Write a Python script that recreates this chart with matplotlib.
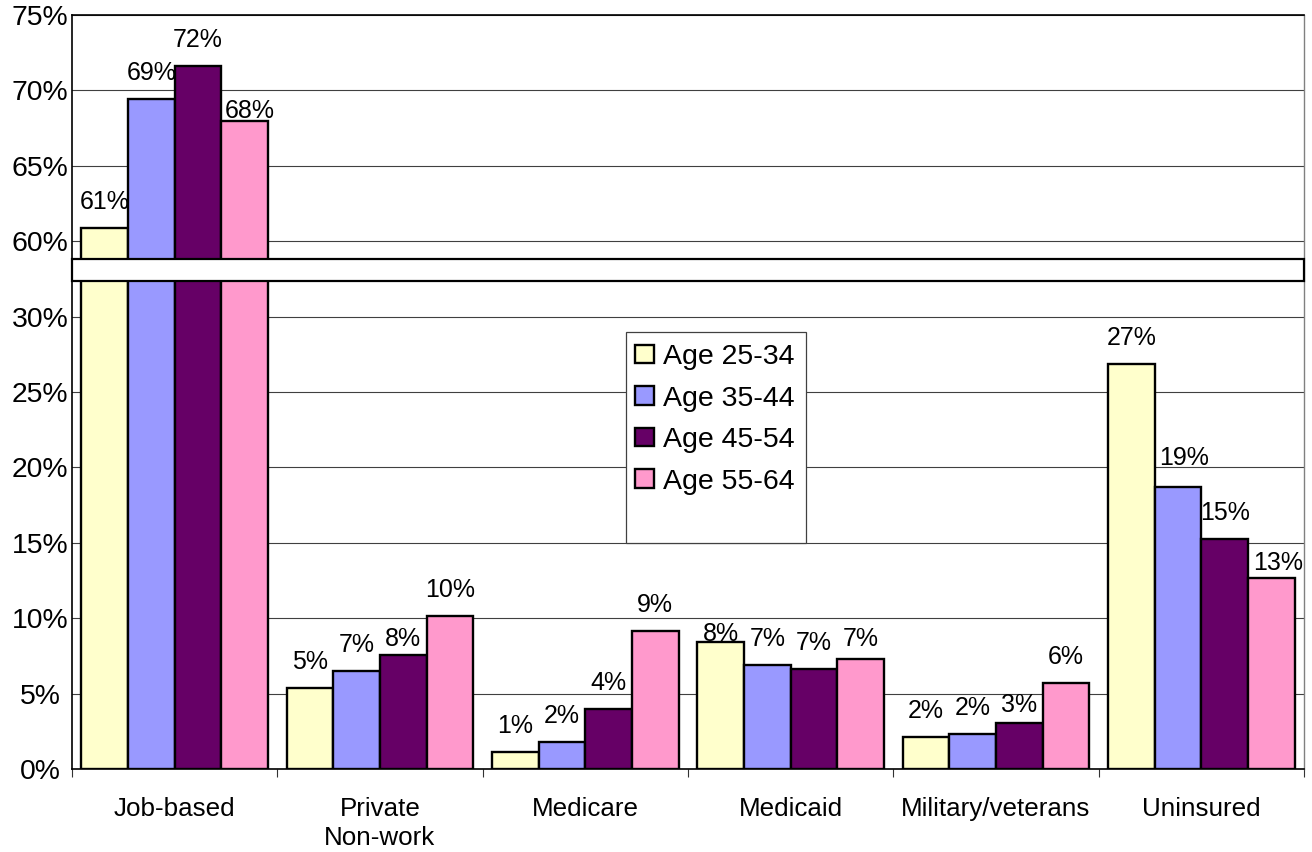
import numpy as np
import matplotlib
matplotlib.use("Agg")
import matplotlib.pyplot as plt
from matplotlib.patches import Rectangle

plt.rcParams["font.family"] = ["Liberation Sans", "DejaVu Sans"]

# ---- data -------------------------------------------------------------
categories = ["Job-based", "Private\nNon-work", "Medicare", "Medicaid",
              "Military/veterans", "Uninsured"]
age_groups = ["Age 25-34", "Age 35-44", "Age 45-54", "Age 55-64"]
age_25_34 = [60.9, 5.39, 1.15, 8.44, 2.14, 26.86]
age_35_44 = [69.45, 6.52, 1.81, 6.90, 2.30, 18.72]
age_45_54 = [71.65, 7.56, 3.96, 6.61, 3.03, 15.25]
age_55_64 = [68.0, 10.17, 9.15, 7.27, 5.72, 12.65]
series = [age_25_34, age_35_44, age_45_54, age_55_64]
y_ticks = [0, 5, 10, 15, 20, 25, 30, 60, 65, 70, 75]

colors = ["#FFFFCC", "#9999FF", "#660066", "#FF99CC"]

# label nudges in pixels (dx, dy) for a few crowded value labels
label_nudge = {
    (0, 3): (5, -16),
    (1, 2): (0, -10),
    (3, 0): (0, -18),
    (3, 3): (0, -6),
    (4, 2): (0, -8),
    (5, 1): (6, 3),
    (5, 3): (7, -11),
}


# ---- broken value axis: 30..60 squeezed into a short gap ---------------
def fwd(v):
    v = np.asarray(v, dtype=float)
    return np.where(v <= 30, v, np.where(v >= 60, v - 25, 30 + (v - 30) / 6.0))


def inv(m):
    m = np.asarray(m, dtype=float)
    return np.where(m <= 30, m, np.where(m >= 35, m + 25, 30 + (m - 30) * 6.0))


W, H = 1312, 852
fig = plt.figure(figsize=(W / 100, H / 100), dpi=100)
ax = fig.add_axes([72 / W, 1 - 769 / H, (1304 - 72) / W, (769 - 15) / H])
ax.set_yscale("function", functions=(fwd, inv))
ax.set_ylim(0, 75)
ax.set_xlim(-0.5, len(categories) - 0.5)

x = np.arange(len(categories))
bw = 0.9091 / 4
bars = []
for i, (vals, col, name) in enumerate(zip(series, colors, age_groups)):
    b = ax.bar(x + (i - 1.5) * bw, vals, width=bw, color=col,
               edgecolor="black", linewidth=1.7, label=name, zorder=3)
    bars.append(b)
    for j, v in enumerate(vals):
        dx, dy = label_nudge.get((j, i), (0, 0))
        ax.annotate(f"{v:.0f}%", (x[j] + (i - 1.5) * bw, v),
                    xytext=(dx * 0.72, (19 + dy) * 0.72),
                    textcoords="offset points", ha="center", va="baseline",
                    fontsize=18, color="black", zorder=6)

# gridlines and y labels
ax.set_yticks(y_ticks)
ax.set_yticklabels([f"{t}%" for t in y_ticks], fontsize=20.4, ha="center")
ax.tick_params(axis="y", length=0, pad=23)
ax.yaxis.grid(True, color="#404040", linewidth=0.8, zorder=0)
ax.set_axisbelow(True)

# category labels with boundary tick marks
ax.set_xticks(x)
ax.set_xticklabels(categories, fontsize=18.7, linespacing=1.3)
ax.tick_params(axis="x", which="major", length=0, pad=20)
ax.set_xticks(np.arange(-0.5, len(categories)), minor=True)
ax.tick_params(axis="x", which="minor", length=5.5, width=0.8, color="#333333",
               direction="out")

for side in ["left", "bottom", "top"]:
    ax.spines[side].set_color("black")
    ax.spines[side].set_linewidth(1.2)
ax.spines["right"].set_color("#808080")
ax.spines["right"].set_linewidth(1.0)

# break band across the value axis
ax.axhspan(44.2, 53.0, facecolor="white", edgecolor="black", linewidth=1.6,
           zorder=5, clip_on=False)

# legend with its own frame
frame = Rectangle((626 / W, 1 - 543 / H), 180 / W, 211 / H,
                  transform=fig.transFigure, facecolor="white",
                  edgecolor="#404040", linewidth=0.9, zorder=6, clip_on=False)
ax.add_patch(frame)
leg = ax.legend(handles=bars, labels=age_groups, loc="upper left",
                bbox_to_anchor=(635 / W, 1 - 344 / H),
                bbox_transform=fig.transFigure, frameon=False,
                fontsize=20.5, handlelength=0.667, handleheight=0.63,
                handletextpad=0.32, labelspacing=0.545, borderpad=0,
                borderaxespad=0)
leg.set_zorder(7)

fig.savefig("out.png", dpi=100)
